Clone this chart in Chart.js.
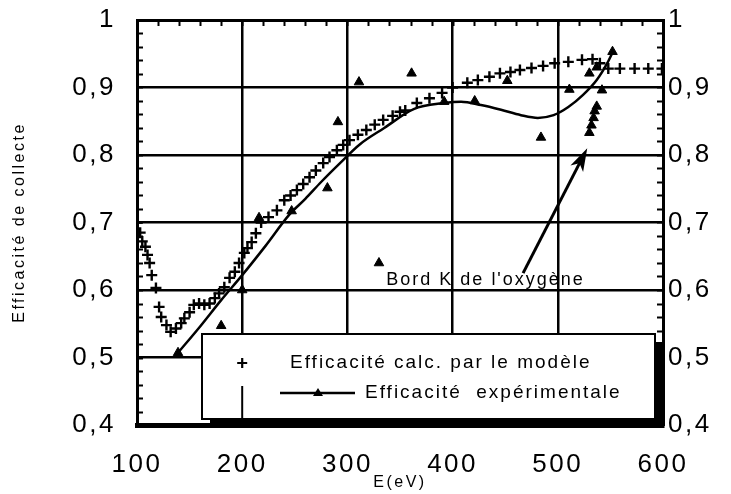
<!DOCTYPE html>
<html>
<head>
<meta charset="utf-8">
<script src="https://cdn.jsdelivr.net/npm/chart.js@4"></script>
<style>
  html, body { margin: 0; padding: 0; background: #fff; }
</style>
</head>
<body>
<canvas id="effChart" width="731" height="494"></canvas>
<script>
// calc. par le modèle (+)
const calcE = [100,103,105,108,110,112,114,118,121,123,128,132,137,142,145,150,154,159,164,169,
  174,178,183,188,193,197,202,205,209,213,218,225,233,240,246,252,258,264,270,277,
  283,290,296,302,310,318,326,334,343,350,355,366,378,390,400,414,424,435,445,455,
  464,475,486,497,510,523,533,540,548,559,573,586,599];
const calcVal = [0.700,0.685,0.672,0.664,0.652,0.640,0.622,0.603,0.575,0.560,0.548,0.538,0.543,0.551,0.558,0.567,0.578,0.580,0.578,0.580,
  0.588,0.595,0.604,0.618,0.627,0.640,0.655,0.662,0.671,0.684,0.700,0.708,0.718,0.733,0.740,0.748,0.757,0.767,0.777,0.788,
  0.797,0.807,0.815,0.822,0.830,0.837,0.845,0.852,0.858,0.864,0.866,0.877,0.884,0.892,0.900,0.907,0.911,0.916,0.921,0.923,
  0.926,0.929,0.932,0.936,0.938,0.941,0.942,0.936,0.928,0.928,0.928,0.928,0.928];

// expérimentale (triangles)
const expE = [139,180,200,216,247,281,291,311,330,361,392,421,452,484,511,530,532,534,535,537,542,530,537,552];
const expVal = [0.507,0.547,0.600,0.707,0.717,0.751,0.849,0.908,0.640,0.921,0.879,0.880,0.910,0.826,0.897,0.833,0.844,0.855,0.865,0.872,0.896,0.921,0.930,0.953];

// courbe lissée de l'expérience
const fitE = [139,160,180,200,222,245,260,275,293,312,335,363,392,408,427,446,465,481,496,510,524,537,547,553];
const fitVal = [0.507,0.546,0.585,0.622,0.665,0.712,0.735,0.760,0.788,0.816,0.840,0.868,0.877,0.879,0.874,0.867,0.859,0.855,0.859,0.871,0.889,0.911,0.936,0.955];

const xTicks = [100, 200, 300, 400, 500, 600];
const yTicks = [0.4, 0.5, 0.6, 0.7, 0.8, 0.9, 1];

const noteText = "Bord K de l'oxygène";
const notePos = { x: 337, y: 0.607 };
const arrowFrom = { x: 467, y: 0.625 };
const arrowTo = { x: 528, y: 0.81 };

const pts = (xs, ys) => xs.map((x, i) => ({ x: x, y: ys[i] }));
const fmt = v => v === 1 ? '1' : Number(v).toFixed(1).replace('.', ',');
const tickFont = { family: 'Liberation Sans', size: 26 };
const noPad = s => { s.paddingTop = 0; s.paddingBottom = 0; s.paddingLeft = 0; s.paddingRight = 0; };

const decoPlugin = {
  id: 'deco',
  beforeDraw(chart) {
    chart.ctx.letterSpacing = '2.5px';
  },
  afterDraw(chart) {
    const ctx = chart.ctx;
    const xs = chart.scales.x, ys = chart.scales.y;
    const a = chart.chartArea;
    ctx.save();
    ctx.strokeStyle = '#000';
    ctx.fillStyle = '#000';

    // minor ticks, inward
    ctx.lineWidth = 2;
    ctx.beginPath();
    for (let v = 0.42; v < 1; v += 0.02) {
      const py = Math.round(ys.getPixelForValue(v)) + 0.5;
      ctx.moveTo(a.left, py); ctx.lineTo(a.left + 6, py);
      ctx.moveTo(a.right, py); ctx.lineTo(a.right - 6, py);
    }
    for (let e = 120; e < 600; e += 20) {
      const px = Math.round(xs.getPixelForValue(e)) + 0.5;
      ctx.moveTo(px, a.top); ctx.lineTo(px, a.top + 6);
    }
    ctx.stroke();

    // annotation
    ctx.font = '18px "Liberation Sans"';
    ctx.letterSpacing = '2px';
    ctx.textBaseline = 'alphabetic';
    ctx.fillText(noteText, xs.getPixelForValue(notePos.x), ys.getPixelForValue(notePos.y));
    const x0 = xs.getPixelForValue(arrowFrom.x), y0 = ys.getPixelForValue(arrowFrom.y);
    const x1 = xs.getPixelForValue(arrowTo.x), y1 = ys.getPixelForValue(arrowTo.y);
    const ang = Math.atan2(y1 - y0, x1 - x0);
    ctx.lineWidth = 3;
    ctx.beginPath(); ctx.moveTo(x0, y0);
    ctx.lineTo(x1 - 10 * Math.cos(ang), y1 - 10 * Math.sin(ang)); ctx.stroke();
    ctx.beginPath();
    ctx.moveTo(x1, y1);
    ctx.lineTo(x1 - 24 * Math.cos(ang - 0.3), y1 - 24 * Math.sin(ang - 0.3));
    ctx.lineTo(x1 - 17 * Math.cos(ang), y1 - 17 * Math.sin(ang));
    ctx.lineTo(x1 - 24 * Math.cos(ang + 0.3), y1 - 24 * Math.sin(ang + 0.3));
    ctx.closePath(); ctx.fill();

    // legend box with shadow
    const bl = a.left + 65, bt = a.bottom - 91, br = a.right - 8, bb = a.bottom - 6;
    ctx.fillRect(bl + 8, bt + 8, br - bl, bb - bt);
    ctx.fillStyle = '#fff';
    ctx.fillRect(bl, bt, br - bl, bb - bt);
    ctx.lineWidth = 2;
    ctx.strokeRect(bl, bt, br - bl, bb - bt);
    ctx.fillStyle = '#000';
    // gridline at 200 peeking through
    const g200 = xs.getPixelForValue(200);
    ctx.beginPath(); ctx.moveTo(g200, bt + 52); ctx.lineTo(g200, bb); ctx.stroke();

    ctx.font = '19px "Liberation Sans"';
    ctx.letterSpacing = '2px';
    ctx.textBaseline = 'middle';
    const r1 = bt + 29, r2 = bt + 59;
    ctx.lineWidth = 2.2;
    ctx.beginPath();
    ctx.moveTo(g200 - 5, r1); ctx.lineTo(g200 + 5, r1);
    ctx.moveTo(g200, r1 - 5); ctx.lineTo(g200, r1 + 5);
    ctx.stroke();
    ctx.fillText('Efficacité calc. par le modèle', bl + 88, r1);
    ctx.lineWidth = 2.5;
    ctx.beginPath(); ctx.moveTo(bl + 78, r2); ctx.lineTo(bl + 153, r2); ctx.stroke();
    ctx.beginPath();
    ctx.moveTo(bl + 116, r2 - 5); ctx.lineTo(bl + 121, r2 + 3); ctx.lineTo(bl + 111, r2 + 3);
    ctx.closePath(); ctx.fill();
    ctx.fillText('Efficacité  expérimentale', bl + 163, r2);
    ctx.restore();
  }
};

new Chart(document.getElementById('effChart'), {
  type: 'scatter',
  data: {
    datasets: [
      {
        label: 'Efficacité calc. par le modèle',
        data: pts(calcE, calcVal),
        pointStyle: 'cross',
        pointRadius: 5.5,
        pointBorderWidth: 2.4,
        borderColor: '#000',
        showLine: false
      },
      {
        label: 'Efficacité expérimentale (courbe)',
        data: pts(fitE, fitVal),
        showLine: true,
        borderColor: '#000',
        borderWidth: 2.5,
        pointRadius: 0,
        cubicInterpolationMode: 'monotone'
      },
      {
        label: 'Efficacité expérimentale',
        data: pts(expE, expVal),
        pointStyle: 'triangle',
        pointRadius: 5.5,
        backgroundColor: '#000',
        borderColor: '#000',
        showLine: false
      }
    ]
  },
  options: {
    responsive: false,
    animation: false,
    devicePixelRatio: 1,
    layout: { padding: 0 },
    plugins: {
      legend: { display: false },
      tooltip: { enabled: false }
    },
    scales: {
      x: {
        type: 'linear', position: 'bottom', min: 100, max: 600,
        afterBuildTicks: s => { s.ticks = xTicks.map(v => ({ value: v })); },
        afterFit: s => { s.height = 69; noPad(s); },
        ticks: { color: '#000', font: tickFont, padding: 24 },
        grid: { color: '#000', lineWidth: 2.5, drawTicks: false },
        border: { color: '#000', width: 5 },
        title: { display: true, text: 'E(eV)', color: '#000', font: { family: 'Liberation Sans', size: 16 }, padding: { top: 0, bottom: 2 } }
      },
      x2: {
        type: 'linear', position: 'top', min: 100, max: 600,
        afterFit: s => { s.height = 20; noPad(s); },
        ticks: { display: false },
        grid: { drawOnChartArea: false, drawTicks: false },
        border: { color: '#000', width: 3 }
      },
      y: {
        type: 'linear', position: 'left', min: 0.4, max: 1,
        afterBuildTicks: s => { s.ticks = yTicks.map(v => ({ value: v })); },
        afterFit: s => { s.width = 137; noPad(s); },
        ticks: { color: '#000', font: tickFont, padding: 21, callback: fmt },
        grid: { color: '#000', lineWidth: 2.5, drawTicks: false },
        border: { color: '#000', width: 3 },
        title: { display: true, text: 'Efficacité de collecte', color: '#000', font: { family: 'Liberation Sans', size: 16 }, padding: { top: 10, bottom: 0 } }
      },
      y2: {
        type: 'linear', position: 'right', min: 0.4, max: 1,
        afterBuildTicks: s => { s.ticks = yTicks.map(v => ({ value: v })); },
        afterFit: s => { s.width = 68; noPad(s); },
        ticks: { color: '#000', font: tickFont, padding: 5, callback: fmt },
        grid: { drawOnChartArea: false, drawTicks: false },
        border: { color: '#000', width: 3 }
      }
    }
  },
  plugins: [decoPlugin]
});
</script>
</body>
</html>
